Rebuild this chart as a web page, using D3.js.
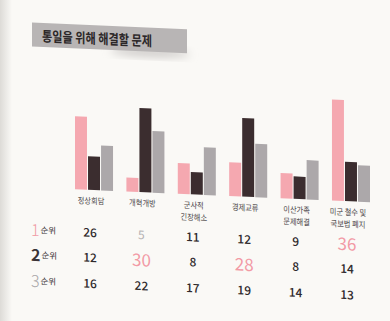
<!DOCTYPE html>
<html>
<head>
<meta charset="utf-8">
<script src="https://cdn.jsdelivr.net/npm/d3@7"></script>
<style>
  html, body { margin: 0; padding: 0; background: #faf9f6; }
  svg { display: block; }
</style>
</head>
<body>
<svg id="chart" width="390" height="321"></svg>
<script>
// Survey: issues to resolve for unification, share of 1st/2nd/3rd choice (%)
const title = "통일을 위해 해결할 문제";
const categories = ["정상회담", "개혁개방", "군사적\n긴장해소", "경제교류", "이산가족\n문제해결", "미군 철수 및\n국보법 폐지"];
const rank1 = [26, 5, 11, 12, 9, 36];
const rank2 = [12, 30, 8, 28, 8, 14];
const rank3 = [16, 22, 17, 19, 14, 13];
const rankNames = ["1", "2", "3"];
const rankSuffix = "순위";

const series = [rank1, rank2, rank3];
const barColors = ["#f5a8b0", "#3b2d2f", "#aca8aa"];
const rankNumColors = ["#f09aa4", "#3a3336", "#a9a7a9"];
const FONT = "'Noto Sans CJK KR', 'Noto Sans', sans-serif";

const svg = d3.select("#chart");

// page tone with a slightly shaded binding edge
const defs = svg.append("defs");
const edge = defs.append("linearGradient").attr("id", "edge").attr("x1", 0).attr("x2", 1);
edge.append("stop").attr("offset", 0).attr("stop-color", "#dddbd7");
edge.append("stop").attr("offset", 1).attr("stop-color", "#faf9f6");
svg.append("rect").attr("width", 390).attr("height", 321).attr("fill", "#faf9f6");
svg.append("rect").attr("width", 12).attr("height", 321).attr("fill", "url(#edge)");

const shadow = defs.append("filter").attr("id", "soft").attr("x", "-50%").attr("y", "-50%").attr("width", "200%").attr("height", "200%");
shadow.append("feGaussianBlur").attr("stdDeviation", 4);

const g = svg.append("g").attr("transform", "skewY(2.5)");

// title banner
g.append("ellipse").attr("cx", 150).attr("cy", 46).attr("rx", 40).attr("ry", 4)
  .attr("fill", "#c9c6c4").attr("filter", "url(#soft)");
g.append("rect").attr("x", 32).attr("y", 21).attr("width", 155).attr("height", 24)
  .attr("fill", "#b8b5b5");
g.append("text").attr("x", 42).attr("y", 33.5)
  .attr("dominant-baseline", "central")
  .attr("font-family", FONT).attr("font-weight", 700).attr("font-size", 14)
  .attr("fill", "#2b2728")
  .attr("textLength", 110).attr("lengthAdjust", "spacingAndGlyphs")
  .text(title);

// scales
const x0 = d3.scaleBand().domain(d3.range(categories.length)).range([75, 370])
  .paddingInner(0.26).paddingOuter(0);
const x1 = d3.scaleBand().domain(d3.range(series.length)).range([0, x0.bandwidth()])
  .paddingInner(0.08);
const y = d3.scaleLinear().domain([0, 36]).range([186, 85]);

// bars
const groups = g.selectAll("g.cat").data(categories).join("g")
  .attr("class", "cat")
  .attr("transform", (d, i) => `translate(${x0(i)},0)`);
groups.selectAll("rect").data((d, i) => series.map((s, k) => ({ k, v: s[i] }))).join("rect")
  .attr("x", d => x1(d.k))
  .attr("width", x1.bandwidth())
  .attr("y", d => y(d.v))
  .attr("height", d => y(0) - y(d.v))
  .attr("fill", d => barColors[d.k]);

// condensed text helper
function condense(sel, ratio) {
  sel.each(function () {
    const w = this.getComputedTextLength();
    d3.select(this).attr("textLength", w * ratio).attr("lengthAdjust", "spacingAndGlyphs");
  });
}

// category labels
categories.forEach((c, i) => {
  const cx = x0(i) + x0.bandwidth() / 2 - 3;
  c.split("\n").forEach((line, j) => {
    const t = g.append("text").attr("x", cx).attr("y", 196 + j * 12)
      .attr("text-anchor", "middle").attr("dominant-baseline", "central")
      .attr("font-family", FONT).attr("font-size", 8.5).attr("fill", "#4d484a")
      .text(line);
    condense(t, 0.85);
  });
});

// value table
const all = series.flat();
const top3 = all.slice().sort((a, b) => b - a).slice(0, 3);
const minV = d3.min(all);
const rowY = [227.5, 252.5, 278.5];

series.forEach((s, k) => {
  // row label
  const lab = g.append("text").attr("x", 31).attr("y", rowY[k])
    .attr("dominant-baseline", "central").attr("font-family", FONT);
  lab.append("tspan").text(rankNames[k])
    .attr("font-size", 16).attr("font-weight", k === 1 ? 700 : 300)
    .attr("fill", rankNumColors[k]);
  lab.append("tspan").text(rankSuffix)
    .attr("font-size", 8.5).attr("fill", "#3a3336").attr("dx", 1);

  s.forEach((v, i) => {
    const cx = x0(i) + x0.bandwidth() / 2 - 4;
    const hi = top3.includes(v);
    const lo = v === minV;
    g.append("text").attr("x", cx).attr("y", rowY[k])
      .attr("text-anchor", "middle").attr("dominant-baseline", "central")
      .attr("font-family", FONT)
      .attr("font-size", hi ? 17 : 12)
      .attr("font-weight", hi || lo ? 400 : 500)
      .attr("fill", hi ? "#f29aa5" : lo ? "#b5b2b3" : "#2f2a2c")
      .text(v);
  });
});
</script>
</body>
</html>
